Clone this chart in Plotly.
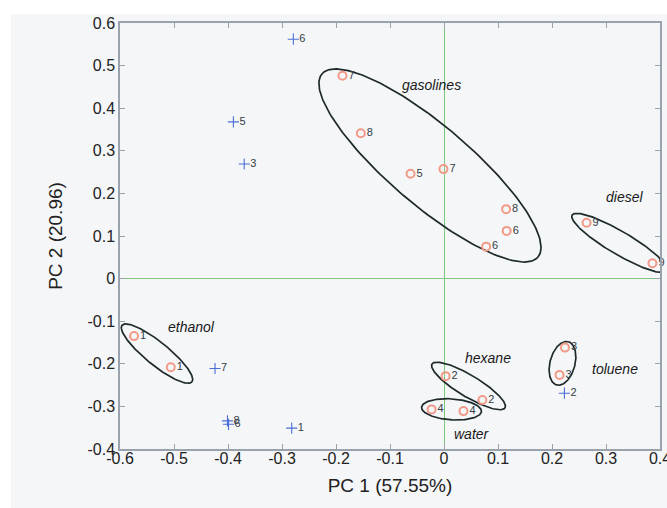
import numpy as np
import plotly.graph_objects as go

# ---- data ----
red_x = [-0.574, -0.506, -0.188, -0.154, -0.062, -0.001, 0.115, 0.116, 0.078,
         0.264, 0.386, 0.003, 0.071, -0.023, 0.036, 0.224, 0.214]
red_y = [-0.135, -0.208, 0.476, 0.341, 0.246, 0.257, 0.163, 0.112, 0.075,
         0.131, 0.036, -0.229, -0.285, -0.307, -0.311, -0.162, -0.226]
red_lbl = ["1", "1", "7", "8", "5", "7", "8", "6", "6",
           "9", "9", "2", "2", "4", "4", "3", "3"]

blue_x = [-0.279, -0.390, -0.370, -0.424, -0.401, -0.399, -0.282, 0.223]
blue_y = [0.562, 0.368, 0.269, -0.211, -0.334, -0.342, -0.351, -0.269]
blue_lbl = ["6", "5", "3", "7", "8", "6", "1", "2"]

group_names = ["gasolines", "diesel", "ethanol", "hexane", "water", "toluene"]
group_lbl_x = [-0.023, 0.335, -0.467, 0.082, 0.051, 0.317]
group_lbl_y = [0.454, 0.191, -0.114, -0.187, -0.365, -0.212]

# ellipse: centre (data), semi-axes (px), angle (deg, screen, ccw)
ell_cx = [-0.026, 0.325, -0.5315, 0.0454, 0.0139, 0.2194]
ell_cy = [0.2655, 0.0836, -0.176, -0.252, -0.307, -0.199]
ell_a = [141.6, 55, 45, 42.6, 30, 22.4]
ell_b = [40, 11.5, 11.5, 10.8, 10.5, 12.5]
ell_ang = [-40.3, -30.5, -39, -31, -4, 75]

x_ticks = [-0.6, -0.5, -0.4, -0.3, -0.2, -0.1, 0, 0.1, 0.2, 0.3, 0.4]
y_ticks = [-0.4, -0.3, -0.2, -0.1, 0, 0.1, 0.2, 0.3, 0.4, 0.5, 0.6]

# ---- layout geometry ----
W, H = 667, 508
ml, mr, mt, mb = 120, 7, 23, 59
xr = [-0.6, 0.4]
yr = [-0.4, 0.6]
pw, ph = W - ml - mr, H - mt - mb
sx = pw / (xr[1] - xr[0])
sy = ph / (yr[1] - yr[0])

fig = go.Figure()

# ellipses
t = np.linspace(0, 2 * np.pi, 200)
for cx, cy, a, b, ang in zip(ell_cx, ell_cy, ell_a, ell_b, ell_ang):
    th = np.deg2rad(ang)
    u = a * np.cos(t)
    v = b * np.sin(t)
    px = u * np.cos(th) - v * np.sin(th)
    py = u * np.sin(th) + v * np.cos(th)
    fig.add_trace(go.Scatter(x=cx + px / sx, y=cy + py / sy, mode="lines",
                             line=dict(color="#1e2a2a", width=1.7),
                             hoverinfo="skip", showlegend=False))

fig.add_trace(go.Scatter(x=red_x, y=red_y, mode="markers+text", text=red_lbl,
                         textposition="middle right",
                         textfont=dict(family="Arial", size=11, color="#333d45"),
                         marker=dict(symbol="circle-open", size=8, color="#f29a88",
                                     line=dict(width=2, color="#f29a88")),
                         showlegend=False, cliponaxis=False))
fig.add_trace(go.Scatter(x=blue_x, y=blue_y, mode="markers+text", text=blue_lbl,
                         textposition="middle right",
                         textfont=dict(family="Arial", size=11, color="#333d45"),
                         marker=dict(symbol="cross-thin", size=8,
                                     line=dict(width=1.1, color="#4a6fd6")),
                         showlegend=False, cliponaxis=False))

for name, gx, gy in zip(group_names, group_lbl_x, group_lbl_y):
    fig.add_annotation(x=gx, y=gy, text="<i>%s</i>" % name, showarrow=False,
                       font=dict(family="Arial", size=14, color="#1a1a1a"))

# white strips outside the grey figure area
fig.add_shape(type="rect", xref="paper", yref="paper",
              x0=-ml / pw, x1=(W - ml) / pw, y0=(H - mb - 14) / ph, y1=(H - mb) / ph,
              fillcolor="white", line=dict(width=0), layer="below")
fig.add_shape(type="rect", xref="paper", yref="paper",
              x0=-ml / pw, x1=(11 - ml) / pw, y0=-mb / ph, y1=(H - mb) / ph,
              fillcolor="white", line=dict(width=0), layer="below")

axis_common = dict(showgrid=False, zeroline=True, zerolinecolor="#7cc77c",
                   zerolinewidth=1, showline=True, linecolor="#9aa3ad", linewidth=1.5,
                   mirror="ticks", ticks="inside", ticklen=5, tickcolor="#9aa3ad",
                   ticklabeloverflow="allow", automargin=False,
                   tickfont=dict(family="Arial", size=16, color="#222222"))

fig.update_layout(
    width=W, height=H,
    margin=dict(l=ml, r=mr, t=mt, b=mb, autoexpand=False),
    paper_bgcolor="#f5f6f8", plot_bgcolor="#f5f6f8",
    xaxis=dict(range=xr, tickvals=x_ticks, ticktext=[("%g" % v) for v in x_ticks],
               ticklabelstandoff=-6,
               title=dict(text="PC 1 (57.55%)", standoff=13,
                          font=dict(family="Arial", size=19, color="#222222")),
               **axis_common),
    yaxis=dict(range=yr, tickvals=y_ticks, ticktext=[("%g" % v) for v in y_ticks],
               title=dict(text="PC 2 (20.96)", standoff=20,
                          font=dict(family="Arial", size=19, color="#222222")),
               **axis_common),
)

fig.write_html("out.html", config={"displayModeBar": False},
               post_script="document.body.style.margin='0';document.body.style.overflow='hidden';")
